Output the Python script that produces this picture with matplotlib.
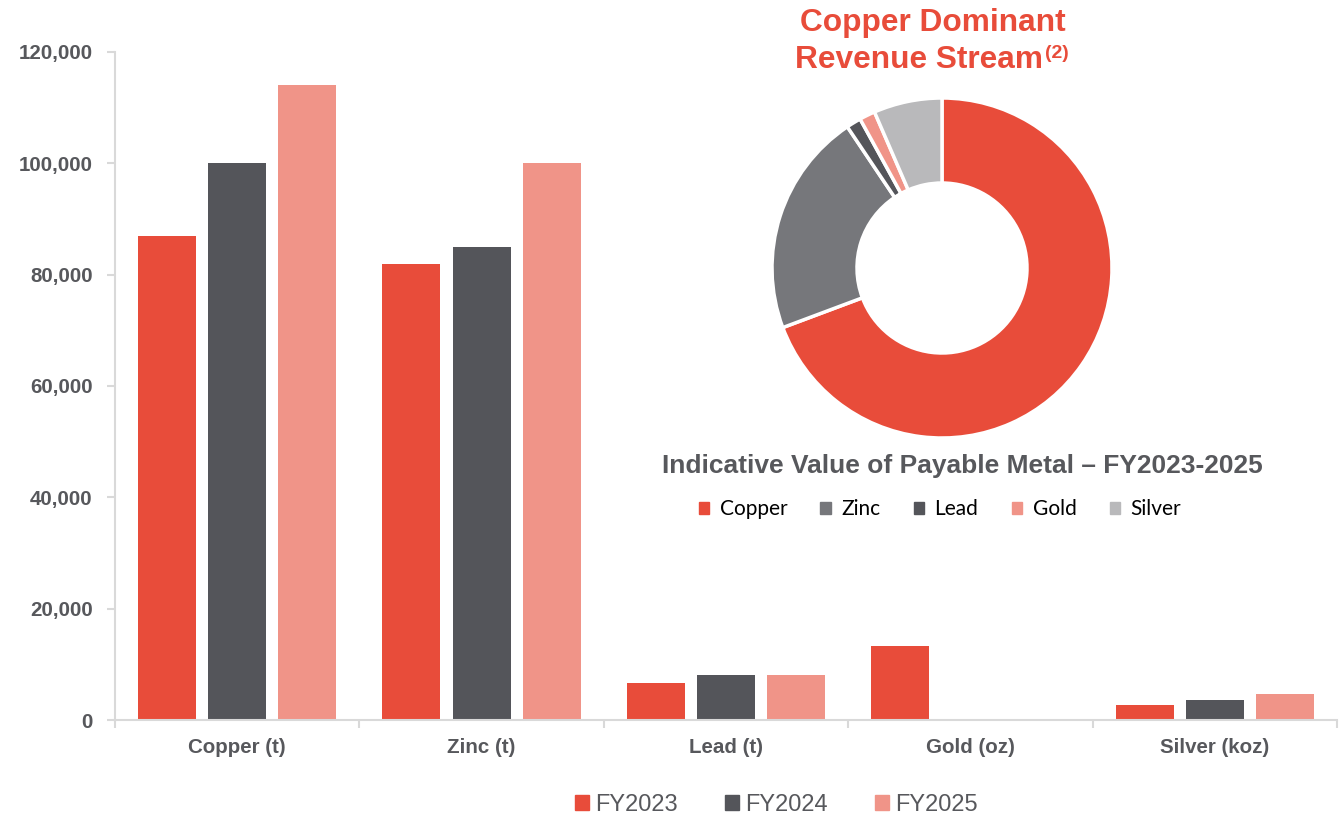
import matplotlib
matplotlib.use('agg')
import matplotlib.pyplot as plt
from matplotlib.patches import Patch
import numpy as np

plt.rcParams['font.family'] = ['Liberation Sans', 'DejaVu Sans']

# bar data
categories = ['Copper (t)', 'Zinc (t)', 'Lead (t)', 'Gold (oz)', 'Silver (koz)']
years = ['FY2023', 'FY2024', 'FY2025']
fy2023 = [87000, 82000, 6600, 13300, 2700]
fy2024 = [100000, 85000, 8000, 0, 3600]
fy2025 = [114000, 100000, 8000, 0, 4700]

# donut data (share of payable metal value, %)
metals = ['Copper', 'Zinc', 'Lead', 'Gold', 'Silver']
shares = [69.3, 21.3, 1.4, 1.5, 6.5]

red = '#E84C3A'
dark = '#54555A'
pink = '#F09488'
zinc_grey = '#76777B'
silver_grey = '#B9B9BB'
text_grey = '#57585C'
spine_grey = '#D9D9D9'

fig = plt.figure(figsize=(13.44, 8.16), dpi=100)
ax = fig.add_axes([115 / 1344, 1 - 720 / 816, 1222 / 1344, 668 / 816])

x = np.arange(len(categories))
w = 0.237
step = 0.287
for i, (vals, col) in enumerate(zip([fy2023, fy2024, fy2025], [red, dark, pink])):
    ax.bar(x + (i - 1) * step, vals, width=w, color=col, label=years[i])

ax.set_xlim(-0.5, len(categories) - 0.5)
ax.set_ylim(0, 120000)
ax.set_yticks(np.arange(0, 120001, 20000))
ax.set_yticklabels([f'{v:,}' for v in range(0, 120001, 20000)])
ax.set_xticks(x)
ax.set_xticklabels(categories)
ax.set_xticks(np.arange(-0.5, len(categories), 1), minor=True)
ax.tick_params(axis='x', which='major', length=0, pad=13)
ax.tick_params(axis='x', which='minor', length=6, color=spine_grey, width=1.5)
ax.tick_params(axis='y', length=6, color=spine_grey, width=1.5, pad=10)
for lab in ax.get_xticklabels() + ax.get_yticklabels():
    lab.set_fontsize(14.8)
    lab.set_fontweight('bold')
    lab.set_color(text_grey)
for s in ['top', 'right']:
    ax.spines[s].set_visible(False)
for s in ['left', 'bottom']:
    ax.spines[s].set_color(spine_grey)
    ax.spines[s].set_linewidth(1.5)

handles = [Patch(color=c, label=l) for c, l in zip([red, dark, pink], years)]
fig.legend(handles=handles, loc='center', bbox_to_anchor=(776 / 1344, 1 - 805 / 816),
           ncol=3, frameon=False, fontsize=17, handlelength=0.6, handleheight=0.6,
           handletextpad=0.25, columnspacing=2.0, labelcolor=text_grey)

# donut
r = 170
pax = fig.add_axes([(942 - r) / 1344, 1 - (268 + r) / 816, 2 * r / 1344, 2 * r / 816])
pax.pie(shares, colors=[red, zinc_grey, dark, pink, silver_grey], startangle=90,
        counterclock=False, radius=1.0,
        wedgeprops=dict(width=0.5, edgecolor='white', linewidth=2.5))
pax.set_xlim(-1.0, 1.0)
pax.set_ylim(-1.0, 1.0)

fig.text(933 / 1344, 1 - 23 / 816, 'Copper Dominant', ha='center', va='center',
         fontsize=22.8, fontweight='bold', color=red)
fig.text(1043 / 1344, 1 - 60 / 816, 'Revenue Stream', ha='right', va='center',
         fontsize=22.8, fontweight='bold', color=red)
fig.text(1045 / 1344, 1 - 54 / 816, '(2)', ha='left', va='center',
         fontsize=14, fontweight='bold', color=red)

fig.text(962 / 1344, 1 - 466 / 816, 'Indicative Value of Payable Metal \u2013 FY2023-2025',
         ha='center', va='center', fontsize=19, fontweight='bold', color=text_grey)

pie_handles = [Patch(color=c, label=l) for c, l in
               zip([red, zinc_grey, dark, pink, silver_grey], metals)]
fig.legend(handles=pie_handles, loc='center', bbox_to_anchor=(940 / 1344, 1 - 509 / 816),
           ncol=5, frameon=False, handlelength=0.5, handleheight=0.5,
           handletextpad=0.5, columnspacing=1.6, prop={'family': 'Lato', 'size': 15})

fig.savefig('out.png', dpi=100)
